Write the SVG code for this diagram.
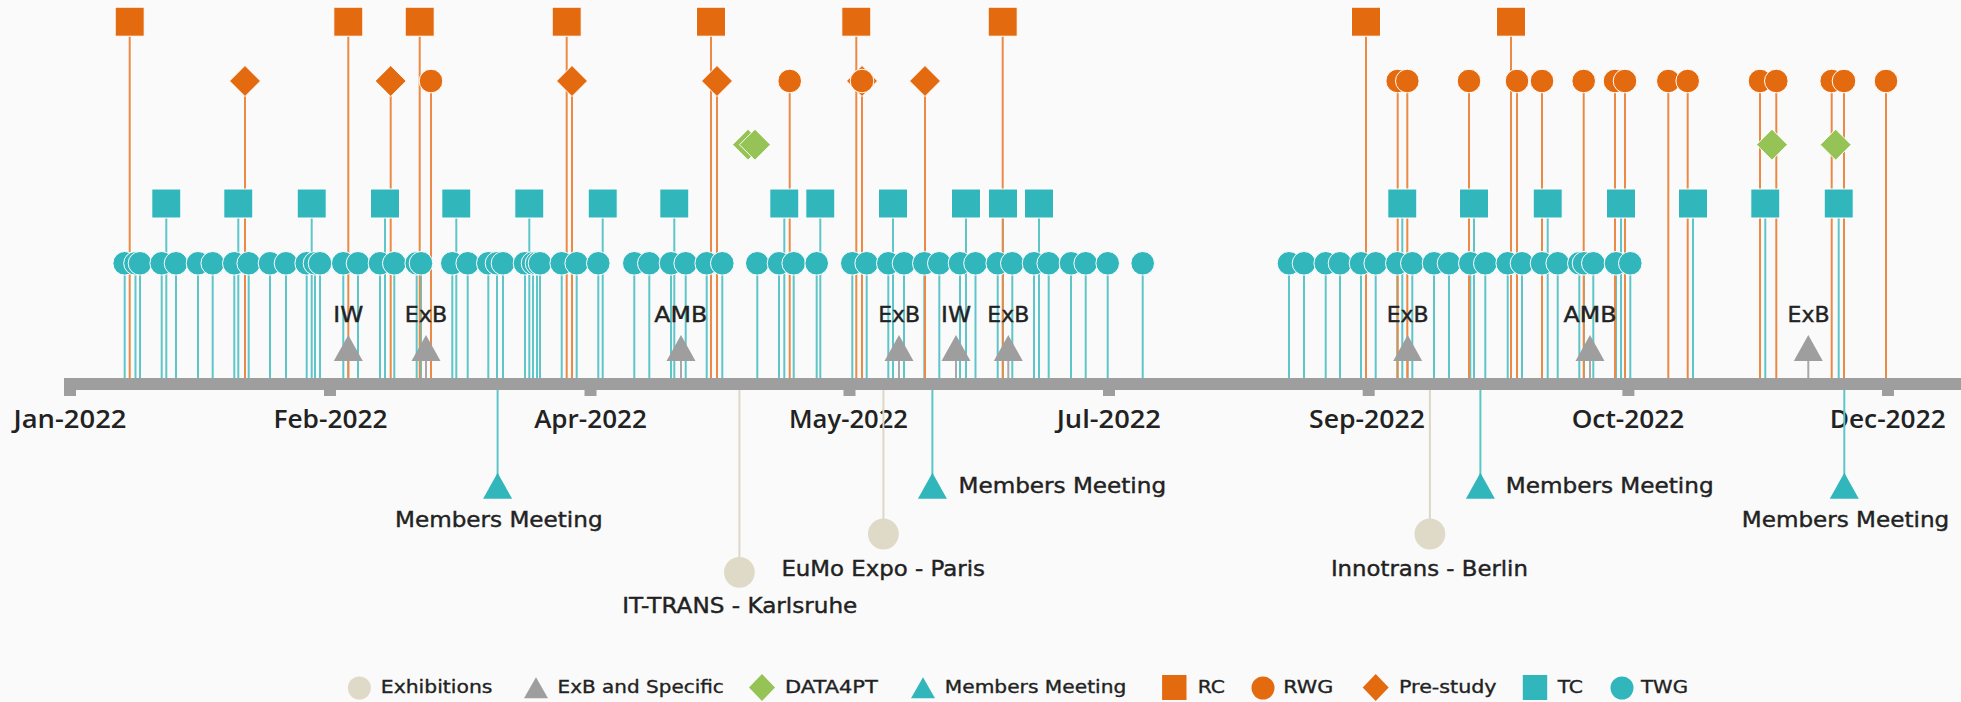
<svg xmlns="http://www.w3.org/2000/svg" width="1961" height="702" viewBox="0 0 1961 702">
<style>
  .bg{fill:#fafafa}
  .axis{fill:#9e9e9e}
  .or{fill:#e36a0e}
  .tl{fill:#31b6bc}
  .gn{fill:#95c356}
  .gy{fill:#9e9e9e}
  .ex{fill:#dedac7}
  .mk{stroke:#ffffff;stroke-width:1}
  .st{fill:none;stroke-width:2}
  .st-o{stroke:#ec8a45}
  .st-t{stroke:#5ec5c9}
  .st-g{stroke:#a8a8a8}
  .st-e{stroke:#dcd8c5}
  .tick{font-family:"Open Sans","Noto Sans",sans-serif;font-weight:600;font-size:25px;fill:#222222;text-anchor:middle}
  .lbl{font-family:"DejaVu Sans","Noto Sans",sans-serif;font-size:21px;fill:#222222;stroke:#222222;stroke-width:0.4}
  .mid{text-anchor:middle}
  .leg{font-family:"DejaVu Sans","Noto Sans",sans-serif;font-size:18px;fill:#222222;stroke:#222222;stroke-width:0.35}
</style>
<defs>
  <circle id="dot" r="11.8"/>
  <rect id="sq" x="-14.5" y="-14.5" width="29" height="29"/>
  <path id="dia" d="M0-15.5L15.5 0L0 15.5L-15.5 0Z"/>
  <path id="tri" d="M0-13L14.5 13H-14.5Z"/>
  <circle id="exh" r="15.4"/>
  <circle id="ldot" r="11.5"/>
  <rect id="lsq" x="-12.2" y="-12.5" width="24.4" height="25"/>
  <path id="ldia" d="M0-13.5L13 0L0 13.5L-13 0Z"/>
  <path id="ltri" d="M0-10.5L12 10.5H-12Z"/>
</defs>

<rect class="bg" width="1961" height="702"/>

<!-- time axis -->
<g id="axis">
  <rect class="axis" x="64" y="378" width="1897" height="12"/>
  <rect class="axis" x="64" y="389" width="12" height="7"/>
  <rect class="axis" x="324" y="389" width="12" height="7"/>
  <rect class="axis" x="584.5" y="389" width="12" height="7"/>
  <rect class="axis" x="843.5" y="389" width="12" height="7"/>
  <rect class="axis" x="1103" y="389" width="12" height="7"/>
  <rect class="axis" x="1362.7" y="389" width="12" height="7"/>
  <rect class="axis" x="1622.4" y="389" width="12" height="7"/>
  <rect class="axis" x="1882" y="389" width="12" height="7"/>
  <text class="tick" x="70" y="428" textLength="113" lengthAdjust="spacingAndGlyphs">Jan-2022</text>
  <text class="tick" x="330.5" y="428" textLength="114" lengthAdjust="spacingAndGlyphs">Feb-2022</text>
  <text class="tick" x="590.5" y="428" textLength="112.7" lengthAdjust="spacingAndGlyphs">Apr-2022</text>
  <text class="tick" x="848.5" y="428" textLength="119" lengthAdjust="spacingAndGlyphs">May-2022</text>
  <text class="tick" x="1108.8" y="428" textLength="104.3" lengthAdjust="spacingAndGlyphs">Jul-2022</text>
  <text class="tick" x="1367" y="428" textLength="116" lengthAdjust="spacingAndGlyphs">Sep-2022</text>
  <text class="tick" x="1628" y="428" textLength="112.6" lengthAdjust="spacingAndGlyphs">Oct-2022</text>
  <text class="tick" x="1887.7" y="428" textLength="116" lengthAdjust="spacingAndGlyphs">Dec-2022</text>
</g>

<!-- stems linking each event to the axis -->
<g id="connectors">
  <path class="st st-e" d="M739.4 390v182M883.4 390v144M1429.9 390v144"/>
  <path class="st st-t" d="M497.6 390v95M932.4 390v95M1480.4 390v95M1844.3 390v95"/>
  <path class="st st-g" d="M348.3 350v28M426 350v28M681 350v28M899 350v28M956 350v28M1008.3 350v28M1407.7 350v28M1590 350v28M1808.3 350v28"/>
  <path class="st st-t" d="M166.3 204v174M238.3 204v174M311.7 204v174M385 204v174M456.3 204v174M529.3 204v174M602.7 204v174M674.3 204v174M784.3 204v174M820.3 204v174M893 204v174M966 204v174M1003 204v174M1039 204v174M1402.3 204v174M1474 204v174M1547.7 204v174M1621 204v174M1693 204v174M1765.3 204v174M1838.7 204v174"/>
  <path class="st st-t" d="M124.7 263v115M135.5 263v115M140 263v115M161.7 263v115M176 263v115M198 263v115M212.7 263v115M234.3 263v115M248.7 263v115M270 263v115M286 263v115M306.7 263v115M315 263v115M320 263v115M343.3 263v115M358 263v115M380 263v115M394.3 263v115M416.7 263v115M421 263v115M452.3 263v115M467.7 263v115M488.3 263v115M497 263v115M503 263v115M525 263v115M533 263v115M537 263v115M540 263v115M561.7 263v115M576.7 263v115M598.3 263v115M634.3 263v115M649.3 263v115M671 263v115M685.7 263v115M706.7 263v115M722.3 263v115M757.3 263v115M779 263v115M793.7 263v115M816.7 263v115M852.3 263v115M866.7 263v115M888.3 263v115M904 263v115M924.3 263v115M939.3 263v115M960 263v115M975.5 263v115M997.7 263v115M1012.3 263v115M1034 263v115M1048.7 263v115M1071 263v115M1085.7 263v115M1107.7 263v115M1142.7 263v115M1289 263v115M1304 263v115M1325.7 263v115M1340 263v115M1361 263v115M1375.7 263v115M1397.3 263v115M1412.3 263v115M1434 263v115M1449 263v115M1470.3 263v115M1485.3 263v115M1507.7 263v115M1522 263v115M1542 263v115M1557.7 263v115M1579.3 263v115M1584 263v115M1593.3 263v115M1616 263v115M1630.3 263v115"/>
  <path class="st st-o" d="M129.7 22v356M348.3 22v356M419.7 22v356M566.7 22v356M711 22v356M856.3 22v356M1002.7 22v356M1366 22v356M1511 22v356"/>
  <path class="st st-o" d="M245 81v297M390.7 81v297M572 81v297M717 81v297M862 81v297M925 81v297M431 81v297M789.7 81v297M1397.7 81v297M1407.3 81v297M1469 81v297M1517 81v297M1542 81v297M1583.7 81v297M1615 81v297M1625 81v297M1668.3 81v297M1687.7 81v297M1760 81v297M1776.3 81v297M1831.7 81v297M1844 81v297M1886 81v297"/>
</g>

<!-- TWG meetings -->
<g id="twg-01"><use href="#dot" class="tl mk" x="124.7" y="263.3"/></g>
<g id="twg-02"><use href="#dot" class="tl mk" x="135.5" y="263.3"/></g>
<g id="twg-03"><use href="#dot" class="tl mk" x="140" y="263.3"/></g>
<g id="twg-04"><use href="#dot" class="tl mk" x="161.7" y="263.3"/></g>
<g id="twg-05"><use href="#dot" class="tl mk" x="176" y="263.3"/></g>
<g id="twg-06"><use href="#dot" class="tl mk" x="198" y="263.3"/></g>
<g id="twg-07"><use href="#dot" class="tl mk" x="212.7" y="263.3"/></g>
<g id="twg-08"><use href="#dot" class="tl mk" x="234.3" y="263.3"/></g>
<g id="twg-09"><use href="#dot" class="tl mk" x="248.7" y="263.3"/></g>
<g id="twg-10"><use href="#dot" class="tl mk" x="270" y="263.3"/></g>
<g id="twg-11"><use href="#dot" class="tl mk" x="286" y="263.3"/></g>
<g id="twg-12"><use href="#dot" class="tl mk" x="306.7" y="263.3"/></g>
<g id="twg-13"><use href="#dot" class="tl mk" x="315" y="263.3"/></g>
<g id="twg-14"><use href="#dot" class="tl mk" x="320" y="263.3"/></g>
<g id="twg-15"><use href="#dot" class="tl mk" x="343.3" y="263.3"/></g>
<g id="twg-16"><use href="#dot" class="tl mk" x="358" y="263.3"/></g>
<g id="twg-17"><use href="#dot" class="tl mk" x="380" y="263.3"/></g>
<g id="twg-18"><use href="#dot" class="tl mk" x="394.3" y="263.3"/></g>
<g id="twg-19"><use href="#dot" class="tl mk" x="416.7" y="263.3"/></g>
<g id="twg-20"><use href="#dot" class="tl mk" x="421" y="263.3"/></g>
<g id="twg-21"><use href="#dot" class="tl mk" x="452.3" y="263.3"/></g>
<g id="twg-22"><use href="#dot" class="tl mk" x="467.7" y="263.3"/></g>
<g id="twg-23"><use href="#dot" class="tl mk" x="488.3" y="263.3"/></g>
<g id="twg-24"><use href="#dot" class="tl mk" x="497" y="263.3"/></g>
<g id="twg-25"><use href="#dot" class="tl mk" x="503" y="263.3"/></g>
<g id="twg-26"><use href="#dot" class="tl mk" x="525" y="263.3"/></g>
<g id="twg-27"><use href="#dot" class="tl mk" x="533" y="263.3"/></g>
<g id="twg-28"><use href="#dot" class="tl mk" x="537" y="263.3"/></g>
<g id="twg-29"><use href="#dot" class="tl mk" x="540" y="263.3"/></g>
<g id="twg-30"><use href="#dot" class="tl mk" x="561.7" y="263.3"/></g>
<g id="twg-31"><use href="#dot" class="tl mk" x="576.7" y="263.3"/></g>
<g id="twg-32"><use href="#dot" class="tl mk" x="598.3" y="263.3"/></g>
<g id="twg-33"><use href="#dot" class="tl mk" x="634.3" y="263.3"/></g>
<g id="twg-34"><use href="#dot" class="tl mk" x="649.3" y="263.3"/></g>
<g id="twg-35"><use href="#dot" class="tl mk" x="671" y="263.3"/></g>
<g id="twg-36"><use href="#dot" class="tl mk" x="685.7" y="263.3"/></g>
<g id="twg-37"><use href="#dot" class="tl mk" x="706.7" y="263.3"/></g>
<g id="twg-38"><use href="#dot" class="tl mk" x="722.3" y="263.3"/></g>
<g id="twg-39"><use href="#dot" class="tl mk" x="757.3" y="263.3"/></g>
<g id="twg-40"><use href="#dot" class="tl mk" x="779" y="263.3"/></g>
<g id="twg-41"><use href="#dot" class="tl mk" x="793.7" y="263.3"/></g>
<g id="twg-42"><use href="#dot" class="tl mk" x="816.7" y="263.3"/></g>
<g id="twg-43"><use href="#dot" class="tl mk" x="852.3" y="263.3"/></g>
<g id="twg-44"><use href="#dot" class="tl mk" x="866.7" y="263.3"/></g>
<g id="twg-45"><use href="#dot" class="tl mk" x="888.3" y="263.3"/></g>
<g id="twg-46"><use href="#dot" class="tl mk" x="904" y="263.3"/></g>
<g id="twg-47"><use href="#dot" class="tl mk" x="924.3" y="263.3"/></g>
<g id="twg-48"><use href="#dot" class="tl mk" x="939.3" y="263.3"/></g>
<g id="twg-49"><use href="#dot" class="tl mk" x="960" y="263.3"/></g>
<g id="twg-50"><use href="#dot" class="tl mk" x="975.5" y="263.3"/></g>
<g id="twg-51"><use href="#dot" class="tl mk" x="997.7" y="263.3"/></g>
<g id="twg-52"><use href="#dot" class="tl mk" x="1012.3" y="263.3"/></g>
<g id="twg-53"><use href="#dot" class="tl mk" x="1034" y="263.3"/></g>
<g id="twg-54"><use href="#dot" class="tl mk" x="1048.7" y="263.3"/></g>
<g id="twg-55"><use href="#dot" class="tl mk" x="1071" y="263.3"/></g>
<g id="twg-56"><use href="#dot" class="tl mk" x="1085.7" y="263.3"/></g>
<g id="twg-57"><use href="#dot" class="tl mk" x="1107.7" y="263.3"/></g>
<g id="twg-58"><use href="#dot" class="tl mk" x="1142.7" y="263.3"/></g>
<g id="twg-59"><use href="#dot" class="tl mk" x="1289" y="263.3"/></g>
<g id="twg-60"><use href="#dot" class="tl mk" x="1304" y="263.3"/></g>
<g id="twg-61"><use href="#dot" class="tl mk" x="1325.7" y="263.3"/></g>
<g id="twg-62"><use href="#dot" class="tl mk" x="1340" y="263.3"/></g>
<g id="twg-63"><use href="#dot" class="tl mk" x="1361" y="263.3"/></g>
<g id="twg-64"><use href="#dot" class="tl mk" x="1375.7" y="263.3"/></g>
<g id="twg-65"><use href="#dot" class="tl mk" x="1397.3" y="263.3"/></g>
<g id="twg-66"><use href="#dot" class="tl mk" x="1412.3" y="263.3"/></g>
<g id="twg-67"><use href="#dot" class="tl mk" x="1434" y="263.3"/></g>
<g id="twg-68"><use href="#dot" class="tl mk" x="1449" y="263.3"/></g>
<g id="twg-69"><use href="#dot" class="tl mk" x="1470.3" y="263.3"/></g>
<g id="twg-70"><use href="#dot" class="tl mk" x="1485.3" y="263.3"/></g>
<g id="twg-71"><use href="#dot" class="tl mk" x="1507.7" y="263.3"/></g>
<g id="twg-72"><use href="#dot" class="tl mk" x="1522" y="263.3"/></g>
<g id="twg-73"><use href="#dot" class="tl mk" x="1542" y="263.3"/></g>
<g id="twg-74"><use href="#dot" class="tl mk" x="1557.7" y="263.3"/></g>
<g id="twg-75"><use href="#dot" class="tl mk" x="1579.3" y="263.3"/></g>
<g id="twg-76"><use href="#dot" class="tl mk" x="1584" y="263.3"/></g>
<g id="twg-77"><use href="#dot" class="tl mk" x="1593.3" y="263.3"/></g>
<g id="twg-78"><use href="#dot" class="tl mk" x="1616" y="263.3"/></g>
<g id="twg-79"><use href="#dot" class="tl mk" x="1630.3" y="263.3"/></g>

<!-- TC meetings -->
<g id="tc-01"><use href="#sq" class="tl mk" x="166.3" y="203.5"/></g>
<g id="tc-02"><use href="#sq" class="tl mk" x="238.3" y="203.5"/></g>
<g id="tc-03"><use href="#sq" class="tl mk" x="311.7" y="203.5"/></g>
<g id="tc-04"><use href="#sq" class="tl mk" x="385" y="203.5"/></g>
<g id="tc-05"><use href="#sq" class="tl mk" x="456.3" y="203.5"/></g>
<g id="tc-06"><use href="#sq" class="tl mk" x="529.3" y="203.5"/></g>
<g id="tc-07"><use href="#sq" class="tl mk" x="602.7" y="203.5"/></g>
<g id="tc-08"><use href="#sq" class="tl mk" x="674.3" y="203.5"/></g>
<g id="tc-09"><use href="#sq" class="tl mk" x="784.3" y="203.5"/></g>
<g id="tc-10"><use href="#sq" class="tl mk" x="820.3" y="203.5"/></g>
<g id="tc-11"><use href="#sq" class="tl mk" x="893" y="203.5"/></g>
<g id="tc-12"><use href="#sq" class="tl mk" x="966" y="203.5"/></g>
<g id="tc-13"><use href="#sq" class="tl mk" x="1003" y="203.5"/></g>
<g id="tc-14"><use href="#sq" class="tl mk" x="1039" y="203.5"/></g>
<g id="tc-15"><use href="#sq" class="tl mk" x="1402.3" y="203.5"/></g>
<g id="tc-16"><use href="#sq" class="tl mk" x="1474" y="203.5"/></g>
<g id="tc-17"><use href="#sq" class="tl mk" x="1547.7" y="203.5"/></g>
<g id="tc-18"><use href="#sq" class="tl mk" x="1621" y="203.5"/></g>
<g id="tc-19"><use href="#sq" class="tl mk" x="1693" y="203.5"/></g>
<g id="tc-20"><use href="#sq" class="tl mk" x="1765.3" y="203.5"/></g>
<g id="tc-21"><use href="#sq" class="tl mk" x="1838.7" y="203.5"/></g>

<!-- DATA4PT -->
<g id="d4pt-01"><use href="#dia" class="gn mk" x="748" y="144.7"/></g>
<g id="d4pt-02"><use href="#dia" class="gn mk" x="755" y="144.7"/></g>
<g id="d4pt-03"><use href="#dia" class="gn mk" x="1772" y="144.7"/></g>
<g id="d4pt-04"><use href="#dia" class="gn mk" x="1835.7" y="144.7"/></g>

<!-- Pre-study -->
<g id="pre-01"><use href="#dia" class="or mk" x="245" y="81"/></g>
<g id="pre-02"><use href="#dia" class="or mk" x="390.7" y="81"/></g>
<g id="pre-03"><use href="#dia" class="or mk" x="572" y="81"/></g>
<g id="pre-04"><use href="#dia" class="or mk" x="717" y="81"/></g>
<g id="pre-05"><use href="#dia" class="or mk" x="862" y="81"/></g>
<g id="pre-06"><use href="#dia" class="or mk" x="925" y="81"/></g>

<!-- RWG meetings -->
<g id="rwg-01"><use href="#dot" class="or mk" x="431" y="81"/></g>
<g id="rwg-02"><use href="#dot" class="or mk" x="789.7" y="81"/></g>
<g id="rwg-03"><use href="#dot" class="or mk" x="862" y="81"/></g>
<g id="rwg-04"><use href="#dot" class="or mk" x="1397.7" y="81"/></g>
<g id="rwg-05"><use href="#dot" class="or mk" x="1407.3" y="81"/></g>
<g id="rwg-06"><use href="#dot" class="or mk" x="1469" y="81"/></g>
<g id="rwg-07"><use href="#dot" class="or mk" x="1517" y="81"/></g>
<g id="rwg-08"><use href="#dot" class="or mk" x="1542" y="81"/></g>
<g id="rwg-09"><use href="#dot" class="or mk" x="1583.7" y="81"/></g>
<g id="rwg-10"><use href="#dot" class="or mk" x="1615" y="81"/></g>
<g id="rwg-11"><use href="#dot" class="or mk" x="1625" y="81"/></g>
<g id="rwg-12"><use href="#dot" class="or mk" x="1668.3" y="81"/></g>
<g id="rwg-13"><use href="#dot" class="or mk" x="1687.7" y="81"/></g>
<g id="rwg-14"><use href="#dot" class="or mk" x="1760" y="81"/></g>
<g id="rwg-15"><use href="#dot" class="or mk" x="1776.3" y="81"/></g>
<g id="rwg-16"><use href="#dot" class="or mk" x="1831.7" y="81"/></g>
<g id="rwg-17"><use href="#dot" class="or mk" x="1844" y="81"/></g>
<g id="rwg-18"><use href="#dot" class="or mk" x="1886" y="81"/></g>

<!-- RC meetings -->
<g id="rc-01"><use href="#sq" class="or mk" x="129.7" y="21.7"/></g>
<g id="rc-02"><use href="#sq" class="or mk" x="348.3" y="21.7"/></g>
<g id="rc-03"><use href="#sq" class="or mk" x="419.7" y="21.7"/></g>
<g id="rc-04"><use href="#sq" class="or mk" x="566.7" y="21.7"/></g>
<g id="rc-05"><use href="#sq" class="or mk" x="711" y="21.7"/></g>
<g id="rc-06"><use href="#sq" class="or mk" x="856.3" y="21.7"/></g>
<g id="rc-07"><use href="#sq" class="or mk" x="1002.7" y="21.7"/></g>
<g id="rc-08"><use href="#sq" class="or mk" x="1366" y="21.7"/></g>
<g id="rc-09"><use href="#sq" class="or mk" x="1511" y="21.7"/></g>

<!-- ExB and specific meetings -->
<g id="exb-01"><use href="#tri" class="gy" x="348.3" y="348"/><text class="lbl mid" x="348.3" y="321.7" textLength="30" lengthAdjust="spacingAndGlyphs">IW</text></g>
<g id="exb-02"><use href="#tri" class="gy" x="426" y="348"/><text class="lbl mid" x="426" y="321.7" textLength="42.3" lengthAdjust="spacingAndGlyphs">ExB</text></g>
<g id="exb-03"><use href="#tri" class="gy" x="681" y="348"/><text class="lbl mid" x="680.8" y="321.7" textLength="53" lengthAdjust="spacingAndGlyphs">AMB</text></g>
<g id="exb-04"><use href="#tri" class="gy" x="899" y="348"/><text class="lbl mid" x="899.2" y="321.7" textLength="42" lengthAdjust="spacingAndGlyphs">ExB</text></g>
<g id="exb-05"><use href="#tri" class="gy" x="956" y="348"/><text class="lbl mid" x="956" y="321.7" textLength="30" lengthAdjust="spacingAndGlyphs">IW</text></g>
<g id="exb-06"><use href="#tri" class="gy" x="1008.3" y="348"/><text class="lbl mid" x="1008.3" y="321.7" textLength="42" lengthAdjust="spacingAndGlyphs">ExB</text></g>
<g id="exb-07"><use href="#tri" class="gy" x="1407.7" y="348"/><text class="lbl mid" x="1407.7" y="321.7" textLength="42" lengthAdjust="spacingAndGlyphs">ExB</text></g>
<g id="exb-08"><use href="#tri" class="gy" x="1590" y="348"/><text class="lbl mid" x="1590" y="321.7" textLength="53" lengthAdjust="spacingAndGlyphs">AMB</text></g>
<g id="exb-09"><use href="#tri" class="gy" x="1808.3" y="348"/><text class="lbl mid" x="1808.5" y="321.7" textLength="42" lengthAdjust="spacingAndGlyphs">ExB</text></g>

<!-- Members meetings -->
<g id="mm-01"><use href="#tri" class="tl" x="497.6" y="485.8"/><text class="lbl mid" x="498.8" y="526.7" textLength="207.6" lengthAdjust="spacingAndGlyphs">Members Meeting</text></g>
<g id="mm-02"><use href="#tri" class="tl" x="932.4" y="485.8"/><text class="lbl" x="958.5" y="493" textLength="207.6" lengthAdjust="spacingAndGlyphs">Members Meeting</text></g>
<g id="mm-03"><use href="#tri" class="tl" x="1480.4" y="485.8"/><text class="lbl" x="1505.7" y="493" textLength="208" lengthAdjust="spacingAndGlyphs">Members Meeting</text></g>
<g id="mm-04"><use href="#tri" class="tl" x="1844.3" y="485.8"/><text class="lbl mid" x="1845.5" y="526.7" textLength="207.4" lengthAdjust="spacingAndGlyphs">Members Meeting</text></g>

<!-- Exhibitions -->
<g id="exh-01"><use href="#exh" class="ex" x="739.4" y="572.3"/><text class="lbl mid" x="739.8" y="613.3" textLength="235" lengthAdjust="spacingAndGlyphs">IT-TRANS - Karlsruhe</text></g>
<g id="exh-02"><use href="#exh" class="ex" x="883.4" y="534"/><text class="lbl mid" x="883.2" y="576.3" textLength="203.6" lengthAdjust="spacingAndGlyphs">EuMo Expo - Paris</text></g>
<g id="exh-03"><use href="#exh" class="ex" x="1429.9" y="534"/><text class="lbl mid" x="1429.4" y="576.3" textLength="197" lengthAdjust="spacingAndGlyphs">Innotrans - Berlin</text></g>

<!-- legend -->
<g id="legend">
  <use href="#ldot" class="ex" x="359.4" y="688"/>
  <text class="leg" x="380.8" y="693.3" textLength="111.6" lengthAdjust="spacingAndGlyphs">Exhibitions</text>
  <use href="#ltri" class="gy" x="536" y="687.8"/>
  <text class="leg" x="557.6" y="693.3" textLength="166.2" lengthAdjust="spacingAndGlyphs">ExB and Specific</text>
  <use href="#ldia" class="gn" x="762" y="687.5"/>
  <text class="leg" x="784.9" y="693.3" textLength="93" lengthAdjust="spacingAndGlyphs">DATA4PT</text>
  <use href="#ltri" class="tl" x="923" y="687.8"/>
  <text class="leg" x="944.8" y="693.3" textLength="181.5" lengthAdjust="spacingAndGlyphs">Members Meeting</text>
  <use href="#lsq" class="or" x="1174.3" y="687.5"/>
  <text class="leg" x="1197.8" y="693.3" textLength="27.2" lengthAdjust="spacingAndGlyphs">RC</text>
  <use href="#ldot" class="or" x="1263" y="688"/>
  <text class="leg" x="1283.3" y="693.3" textLength="50" lengthAdjust="spacingAndGlyphs">RWG</text>
  <use href="#ldia" class="or" x="1375.7" y="687.5"/>
  <text class="leg" x="1399" y="693.3" textLength="97.6" lengthAdjust="spacingAndGlyphs">Pre-study</text>
  <use href="#lsq" class="tl" x="1535" y="687.5"/>
  <text class="leg" x="1557.7" y="693.3" textLength="25.3" lengthAdjust="spacingAndGlyphs">TC</text>
  <use href="#ldot" class="tl" x="1622" y="688"/>
  <text class="leg" x="1641" y="693.3" textLength="47" lengthAdjust="spacingAndGlyphs">TWG</text>
</g>
</svg>
